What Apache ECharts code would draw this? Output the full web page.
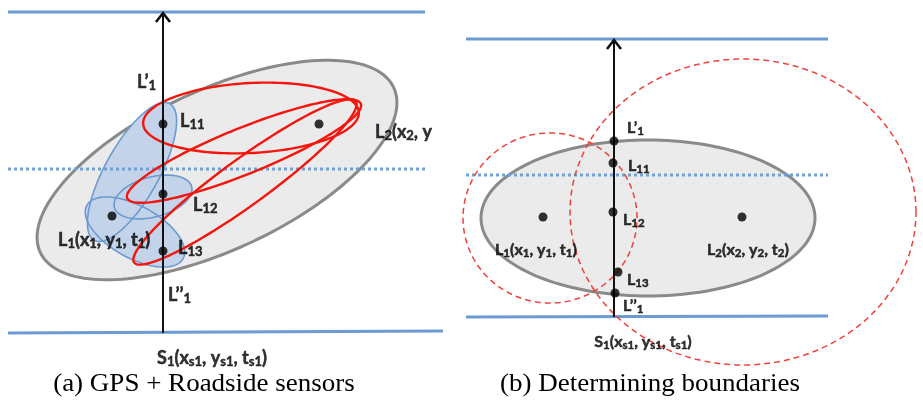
<!DOCTYPE html>
<html>
<head>
<meta charset="utf-8">
<script src="https://cdn.jsdelivr.net/npm/echarts@6/dist/echarts.min.js"></script>
<style>
  html, body { margin: 0; padding: 0; background: #fff; }
  #chart { width: 923px; height: 407px; }
</style>
</head>
<body>
<div id="chart"></div>
<script>
// Road edges as segments: [x1, y1, x2, y2]
const roadEdges = [[8, 12, 425, 12], [8, 333, 443, 331], [466, 39, 828, 39], [466, 317, 828, 316]];
// Dotted lane markings: [x1, y1, x2, y2]
const laneMarks = [[8, 169, 425, 169], [466, 175, 828, 175]];
// Travel direction arrows: [x, yStart, yEnd]
const arrows = [[163, 333, 12], [614, 317, 39]];
// Ellipses: [cx, cy, rx, ry, rotationDeg]
const zoneEllipses = [[217, 170, 195, 80, 25], [648, 218, 167, 78, 0]];
const sensorEllipses = [[132, 172, 78, 27, 61], [153, 197, 40, 20, 15], [135, 232, 55, 26, -29]];
const gpsEllipses = [[251, 118, 108, 35, 3], [244, 151, 126, 23, 22], [245, 182, 137, 23, 36]];
const rangeCircles = [[550, 218, 87, 85, 0], [743, 212, 173, 153, 0]];
// Location points
const pointsA = [[112, 216], [163, 124], [163, 194], [163, 251], [319, 124]];
const pointsB = [[543, 217], [742, 217], [614, 141], [613, 163], [613, 212], [618, 272], [615, 293]];
// Labels: [x, y, text]; "_{..}" marks a subscript
const labelsA = [
  [137, 82, 'L’_{1}'], [180, 121, 'L_{11}'], [375, 132, 'L_{2}(x_{2}, y'],
  [193, 205, 'L_{12}'], [58, 240, 'L_{1}(x_{1}, y_{1}, t_{1})'], [178, 248, 'L_{13}'],
  [168, 295, 'L’’_{1}']
];
const labelsB = [
  [627, 128, 'L’_{1}'], [628, 166, 'L_{11}'], [623, 220, 'L_{12}'],
  [495, 250, 'L_{1}(x_{1}, y_{1}, t_{1})'], [707, 250, 'L_{2}(x_{2}, y_{2}, t_{2})'],
  [627, 280, 'L_{13}'], [623, 306, 'L’’_{1}']
];
const sourceLabels = [[212, 358, 'S_{1}(x_{s1}, y_{s1}, t_{s1})'], [643, 342, 'S_{1}(x_{s1}, y_{s1}, t_{s1})']];
const captions = [[204, 384, '(a) GPS + Roadside sensors'], [650, 384, '(b) Determining boundaries']];

const BLUE = '#6b9bd2';

function toRich(str) {
  let out = '';
  const re = /_\{([^}]*)\}/g;
  let last = 0, m;
  while ((m = re.exec(str)) !== null) {
    if (m.index > last) out += '{m|' + str.slice(last, m.index) + '}';
    out += '{s|' + m[1] + '}';
    last = re.lastIndex;
  }
  if (last < str.length) out += '{m|' + str.slice(last) + '}';
  return out;
}

function ellipseSeries(data, style, z) {
  return {
    type: 'custom', z: z, silent: true,
    data: data,
    renderItem: function (params, api) {
      const c = api.coord([api.value(0), api.value(1)]);
      const s = api.size([api.value(2), api.value(3)], [api.value(0), api.value(1)]);
      const th = api.value(4) * Math.PI / 180;
      const pts = [];
      const n = 160;
      for (let i = 0; i < n; i++) {
        const p = i / n * Math.PI * 2;
        const ex = s[0] * Math.cos(p), ey = s[1] * Math.sin(p);
        pts.push([c[0] + ex * Math.cos(th) - ey * Math.sin(th),
                  c[1] - (ex * Math.sin(th) + ey * Math.cos(th))]);
      }
      return { type: 'polygon', shape: { points: pts }, style: Object.assign({}, style) };
    }
  };
}

function segmentSeries(data, style, z) {
  return {
    type: 'custom', z: z, silent: true, data: data,
    renderItem: function (params, api) {
      const a = api.coord([api.value(0), api.value(1)]);
      const b = api.coord([api.value(2), api.value(3)]);
      return { type: 'line', shape: { x1: a[0], y1: a[1], x2: b[0], y2: b[1] }, style: Object.assign({}, style) };
    }
  };
}

function labelSeries(list, rich, position, z) {
  return {
    type: 'scatter', z: z, silent: true,
    symbolSize: 0.1, itemStyle: { color: 'transparent' },
    data: list.map(function (l) { return [l[0], l[1]]; }),
    label: {
      show: true, position: position, distance: 0,
      formatter: function (p) { return toRich(list[p.dataIndex][2]); },
      rich: rich
    }
  };
}

function richStyle(size, subSize, pad) {
  const base = { fontFamily: 'Lato', fontWeight: 'bold', color: '#000', textBorderColor: '#000', textBorderWidth: 0.5 };
  return {
    m: Object.assign({ fontSize: size }, base),
    s: Object.assign({ fontSize: subSize, padding: [pad, 0, 0, 0] }, base)
  };
}

const chart = echarts.init(document.getElementById('chart'));
chart.setOption({
  animation: false,
  grid: { left: 0, right: 0, top: 0, bottom: 0 },
  xAxis: { type: 'value', min: 0, max: 923, show: false },
  yAxis: { type: 'value', min: 0, max: 407, inverse: true, show: false },
  series: [
    ellipseSeries(zoneEllipses, { fill: '#ebebeb', stroke: '#8a8a8a', lineWidth: 3 }, 1),
    ellipseSeries(sensorEllipses, { fill: '#c3d4ea', stroke: 'none' }, 2),
    ellipseSeries(sensorEllipses, { fill: 'none', stroke: '#6c9ad0', lineWidth: 1.6 }, 3),
    segmentSeries(roadEdges, { stroke: BLUE, lineWidth: 3 }, 4),
    segmentSeries(laneMarks, { stroke: '#6fa0d6', lineWidth: 3, lineDash: [3, 3] }, 4),
    ellipseSeries(gpsEllipses, { fill: 'none', stroke: '#f5150f', lineWidth: 2.4 }, 5),
    ellipseSeries(rangeCircles, { fill: 'none', stroke: '#f0413c', lineWidth: 1.5, lineDash: [6, 4] }, 5),
    {
      type: 'custom', z: 6, silent: true, data: arrows,
      renderItem: function (params, api) {
        const a = api.coord([api.value(0), api.value(1)]);
        const b = api.coord([api.value(0), api.value(2)]);
        return {
          type: 'group',
          children: [
            { type: 'line', shape: { x1: a[0], y1: a[1], x2: b[0], y2: b[1] + 1 }, style: { stroke: '#111', lineWidth: 2 } },
            { type: 'polyline', shape: { points: [[b[0] - 7, b[1] + 10], [b[0], b[1] + 1], [b[0] + 7, b[1] + 10]] },
              style: { stroke: '#111', lineWidth: 2.6, fill: 'none' } }
          ]
        };
      }
    },
    { type: 'scatter', z: 7, silent: true, symbolSize: 9, itemStyle: { color: '#000' }, data: pointsA },
    { type: 'scatter', z: 7, silent: true, symbolSize: 9, itemStyle: { color: '#000' }, data: pointsB },
    labelSeries(labelsA, richStyle(18, 13, 7), 'right', 8),
    labelSeries(labelsB, richStyle(16, 11.5, 6), 'right', 8),
    labelSeries(sourceLabels.slice(0, 1), richStyle(18, 13, 7), 'inside', 8),
    labelSeries(sourceLabels.slice(1), richStyle(16, 11.5, 6), 'inside', 8),
    {
      type: 'custom', z: 8, silent: true, data: captions.map(function (c) { return [c[0], c[1]]; }),
      renderItem: function (params, api) {
        const p = api.coord([api.value(0), api.value(1)]);
        return {
          type: 'text', x: p[0], y: p[1], scaleX: 1.08,
          style: {
            text: captions[params.dataIndex][2],
            fontFamily: 'Liberation Serif', fontSize: 25, fill: '#000',
            align: 'center', verticalAlign: 'middle'
          }
        };
      }
    }
  ]
});
</script>
</body>
</html>
